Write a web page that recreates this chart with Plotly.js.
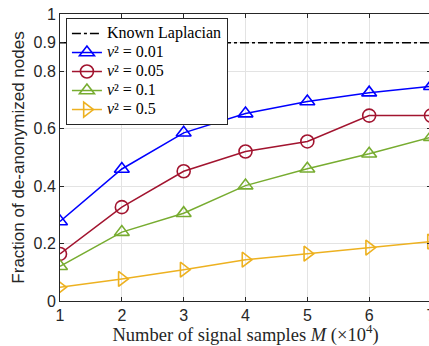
<!DOCTYPE html>
<html>
<head>
<meta charset="utf-8">
<script src="https://cdn.plot.ly/plotly-3.0.1.min.js"></script>
<style>
html,body{margin:0;padding:0;overflow:hidden;background:#fff;}
#chart{width:436px;height:346px;}
</style>
</head>
<body>
<div id="chart"></div>
<script>
const samplesM = [1, 2, 3, 4, 5, 6, 7];
const knownLaplacian = [0.9, 0.9, 0.9, 0.9, 0.9, 0.9, 0.9];
const nu001 = [0.277, 0.460, 0.586, 0.653, 0.695, 0.726, 0.748];
const nu005 = [0.164, 0.327, 0.452, 0.521, 0.556, 0.646, 0.646];
const nu01  = [0.121, 0.240, 0.306, 0.402, 0.461, 0.513, 0.571];
const nu05  = [0.048, 0.077, 0.109, 0.144, 0.165, 0.186, 0.207];
const seriesNames = ['Known Laplacian', '<i>ν</i>² = 0.01', '<i>ν</i>² = 0.05', '<i>ν</i>² = 0.1', '<i>ν</i>² = 0.5'];
const yTickVals = [0, 0.2, 0.4, 0.6, 0.8, 0.9, 1];
const yTickText = ['0', '0.2', '0.4', '0.6', '0.8', '0.9', '1'];
const xTickVals = [1, 2, 3, 4, 5, 6, 7];

const serif = 'Liberation Serif, DejaVu Serif, serif';
const sans = 'Liberation Sans, Arial, sans-serif';

function big(name) { return '<span style="font-size:16px">' + name + '</span>'; }

function series(y, name, color, symbol) {
  return {
    x: samplesM, y: y, name: big(name), type: 'scatter', mode: 'lines+markers',
    line: {color: color, width: 1.5},
    marker: {symbol: symbol, size: 13, color: color, line: {color: color, width: 1.6}}
  };
}

const data = [
  {x: samplesM, y: knownLaplacian, name: big(seriesNames[0]), type: 'scatter', mode: 'lines',
   line: {color: '#000000', width: 1.5, dash: 'dashdot'}},
  series(nu001, seriesNames[1], '#0000FF', 'triangle-up-open'),
  series(nu005, seriesNames[2], '#A2142F', 'circle-open'),
  series(nu01,  seriesNames[3], '#77AC30', 'triangle-up-open'),
  series(nu05,  seriesNames[4], '#EDB120', 'triangle-right-open')
];

const layout = {
  width: 436, height: 346,
  margin: {l: 60, r: 5, t: 14, b: 45},
  paper_bgcolor: '#ffffff', plot_bgcolor: '#ffffff',
  showlegend: true,
  legend: {
    x: 0.016, y: 0.986, xanchor: 'left', yanchor: 'top',
    bgcolor: '#ffffff', bordercolor: '#262626', borderwidth: 1,
    font: {family: serif, size: 12, color: '#000000'},
    itemwidth: 30, tracegroupgap: 0
  },
  xaxis: {
    range: [1, 7], tickvals: xTickVals,
    showgrid: true, gridcolor: '#e3e3e3', gridwidth: 1,
    showline: true, linecolor: '#262626', linewidth: 1, mirror: 'ticks',
    ticks: 'inside', ticklen: 4, tickcolor: '#262626',
    zeroline: false,
    tickfont: {family: sans, size: 16, color: '#262626'},
    title: {text: 'Number of signal samples <i>M</i> (×10<sup>4</sup>)',
            font: {family: serif, size: 18.5, color: '#262626'}, standoff: 5}
  },
  yaxis: {
    range: [0, 1], tickvals: yTickVals, ticktext: yTickText,
    showgrid: true, gridcolor: '#e3e3e3', gridwidth: 1,
    showline: true, linecolor: '#262626', linewidth: 1, mirror: 'ticks',
    ticks: 'inside', ticklen: 4, tickcolor: '#262626',
    zeroline: false,
    tickfont: {family: sans, size: 16, color: '#262626'},
    title: {text: 'Fraction of de-anonymized nodes',
            font: {family: sans, size: 17, color: '#262626'}, standoff: 4}
  }
};

Plotly.newPlot('chart', data, layout, {displayModeBar: false, staticPlot: true});
</script>
</body>
</html>
